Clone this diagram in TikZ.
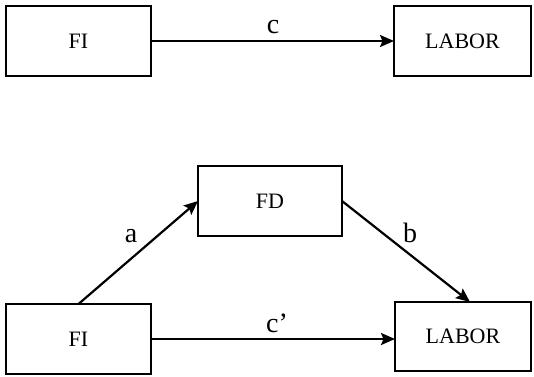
\documentclass[tikz,border=0pt]{standalone}
\usepackage{fontspec}
\setmainfont{Liberation Serif}
\usetikzlibrary{arrows.meta,calc}
\begin{document}
\begin{tikzpicture}[x=1pt,y=-1pt,
  box/.style={draw=black,line width=2.2pt,minimum width=145pt,minimum height=70pt,inner sep=0pt,outer sep=0pt,font=\fontsize{22}{26}\selectfont},
  conn/.style={line width=2.2pt,-{Stealth[length=14pt,width=12pt,inset=2.5pt]}},
  lab/.style={font=\fontsize{28}{32}\selectfont,inner sep=0pt}]
\useasboundingbox (0,0) rectangle (534,376);
\node[box] (FIa) at (78.5,41) {FI};
\node[box,minimum width=137pt] (LABa) at (462.5,41) {LABOR};
\node[box,minimum width=144pt] (FD) at (270,201) {FD};
\node[box] (FIb) at (78.5,339) {FI};
\node[box,minimum width=136pt,minimum height=69pt] (LABb) at (463,336.5) {LABOR};
\draw[conn] (FIa.east) -- (LABa.west);
\draw[conn] (FIb.east) -- (FIb.east -| LABb.west);
\draw[conn] (FIb.north) -- (FD.west);
\draw[conn] (FD.east) -- ($(LABb.north)+(7,0)$);
\node[lab] (lc) at (273,27) {c};
\node[lab] (lcp) at (277,323) {c’};
\node[lab] (la) at (131,236) {a};
\node[lab] (lb) at (410,233) {b};
\end{tikzpicture}
\end{document}
